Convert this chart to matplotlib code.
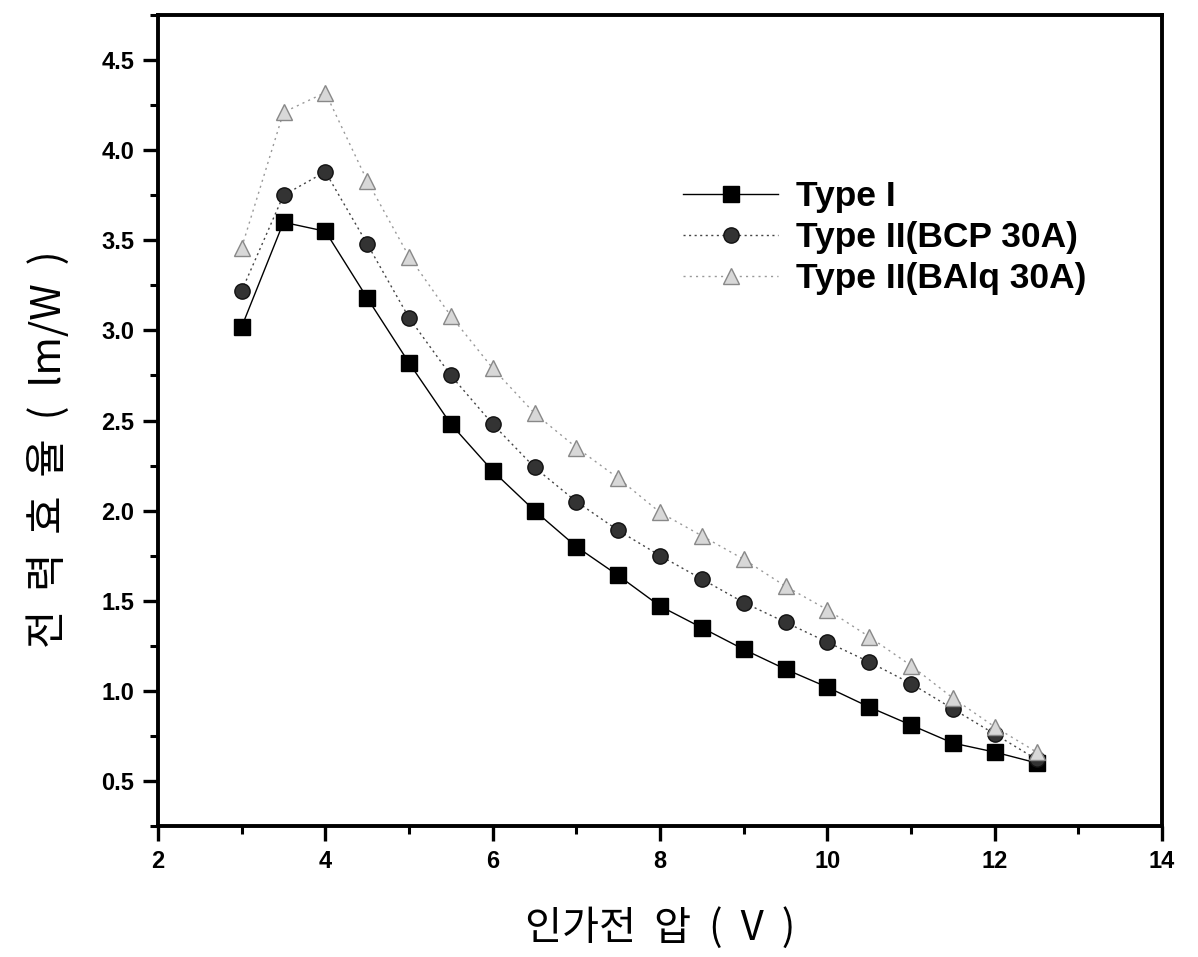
import matplotlib
matplotlib.use("Agg")
import matplotlib.pyplot as plt
from matplotlib.ticker import MultipleLocator

voltage = [3, 3.5, 4, 4.5, 5, 5.5, 6, 6.5, 7, 7.5, 8, 8.5, 9, 9.5, 10, 10.5, 11, 11.5, 12, 12.5]
type1 = [3.02, 3.60, 3.55, 3.18, 2.82, 2.48, 2.22, 2.00, 1.80, 1.64, 1.47, 1.35, 1.23, 1.12, 1.02, 0.91, 0.81, 0.71, 0.66, 0.60]
type2_bcp = [3.22, 3.75, 3.88, 3.48, 3.07, 2.75, 2.48, 2.24, 2.05, 1.89, 1.75, 1.62, 1.49, 1.38, 1.27, 1.16, 1.04, 0.90, 0.76, 0.62]
type2_balq = [3.46, 4.21, 4.32, 3.83, 3.41, 3.08, 2.79, 2.54, 2.35, 2.18, 1.99, 1.86, 1.73, 1.58, 1.45, 1.30, 1.14, 0.96, 0.80, 0.66]
labels = ["Type I", "Type II(BCP 30A)", "Type II(BAlq 30A)"]
yticks = [0.5, 1.0, 1.5, 2.0, 2.5, 3.0, 3.5, 4.0, 4.5]

plt.rcParams["font.family"] = ["Liberation Sans", "DejaVu Sans"]
KR = ["Noto Sans CJK KR", "DejaVu Sans"]

fig = plt.figure(figsize=(11.98, 9.57), dpi=100)
ax = fig.add_axes([0.1319, 0.1369, 0.8381, 0.8474])

ax.plot(voltage, type1, color="black", linewidth=1.0, linestyle="-",
        marker="s", markersize=11, markerfacecolor="black", label=labels[0])
ax.plot(voltage, type2_bcp, color="#444444", linewidth=1.0, linestyle=(0, (1.5, 2.5)),
        marker="o", markersize=11, markerfacecolor="#333333",
        markeredgecolor="#111111", label=labels[1])
ax.plot(voltage, type2_balq, color="#999999", linewidth=1.0, linestyle=(0, (1.5, 3)),
        marker="^", markersize=11, markerfacecolor="#d8d8d8",
        markeredgecolor="#888888", label=labels[2])

ax.set_xlim(2, 14)
ax.set_ylim(0.25, 4.75)
ax.xaxis.set_major_locator(MultipleLocator(2))
ax.xaxis.set_minor_locator(MultipleLocator(1))
ax.yaxis.set_minor_locator(MultipleLocator(0.25))
ax.set_yticks(yticks)
ax.set_yticklabels([f"{v:.1f}" for v in yticks])

for s in ax.spines.values():
    s.set_linewidth(2.8)
ax.tick_params(which="major", direction="out", length=11, width=2.4,
               labelsize=17, pad=6)
ax.tick_params(which="minor", direction="out", length=6, width=2.2)
for lab in ax.get_xticklabels() + ax.get_yticklabels():
    lab.set_fontweight("bold")

ax.set_xlabel("인가전  압  (  V  )", family=KR, fontsize=29)
ax.set_ylabel("전  력  효  율  (  lm/W  )", family=KR, fontsize=30)
ax.xaxis.set_label_coords(0.5, -0.1)
ax.yaxis.set_label_coords(-0.088, 0.465)

ax.legend(loc="upper left", bbox_to_anchor=(0.505, 0.818), frameon=False,
          prop={"weight": "bold", "size": 25.5}, handlelength=2.7,
          handletextpad=0.5, labelspacing=0.22, borderpad=0)

fig.savefig("out.png", dpi=100, facecolor="white")
